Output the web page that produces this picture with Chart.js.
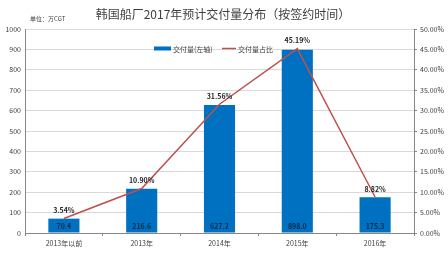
<!DOCTYPE html>
<html>
<head>
<meta charset="utf-8">
<script src="https://cdn.jsdelivr.net/npm/chart.js@4/dist/chart.umd.min.js"></script>
<style>
  html, body { margin: 0; padding: 0; background: #fff; }
  canvas { display: block; }
</style>
</head>
<body>
<canvas id="shipChart" width="448" height="255"></canvas>
<script>
var years = ["2013年以前", "2013年", "2014年", "2015年", "2016年"];
var delivered = [70.4, 216.6, 627.2, 898.0, 175.3];   // 万CGT
var share = [3.54, 10.90, 31.56, 45.19, 8.82];         // %

var cjk = '"Noto Sans CJK SC", "Noto Sans", sans-serif';
var barColor = "#0070c0";
var lineColor = "#c0504d";

// title, unit, legend and the value labels
var annotate = {
    id: 'annotate',
    afterDatasetsDraw: function (chart) {
        var ctx = chart.ctx;
        ctx.save();

        ctx.fillStyle = "#404040";
        ctx.font = "12px " + cjk;
        ctx.textAlign = "center";
        ctx.textBaseline = "middle";
        ctx.fillText("韩国船厂2017年预计交付量分布（按签约时间）", 223, 14);

        ctx.font = "6px " + cjk;
        ctx.textAlign = "left";
        ctx.fillText("单位：万CGT", 30, 19);

        // legend
        ctx.font = "7px " + cjk;
        ctx.fillStyle = barColor;
        ctx.fillRect(154, 46.5, 17, 4);
        ctx.fillStyle = "#404040";
        ctx.fillText("交付量(左轴)", 173, 49);
        ctx.strokeStyle = lineColor;
        ctx.lineWidth = 1.5;
        ctx.beginPath();
        ctx.moveTo(222, 48.5);
        ctx.lineTo(236, 48.5);
        ctx.stroke();
        ctx.fillText("交付量占比", 238, 49);

        // bar values inside the bars
        var bars = chart.getDatasetMeta(0).data;
        ctx.font = "bold 7px " + cjk;
        ctx.textAlign = "center";
        ctx.fillStyle = "#14284a";
        bars.forEach(function (b, i) {
            ctx.fillText(delivered[i].toFixed(1), b.x, chart.scales.y.bottom - 7);
        });

        // percentages above the line points
        var pts = chart.getDatasetMeta(1).data;
        ctx.fillStyle = "#262626";
        pts.forEach(function (p, i) {
            ctx.fillText(share[i].toFixed(2) + "%", p.x, p.y - 8);
        });
        ctx.restore();
    }
};

var ctx = document.getElementById('shipChart').getContext('2d');
var chart = new Chart(ctx, {
    type: 'bar',
    data: {
        labels: years,
        datasets: [
            {
                label: "交付量(左轴)",
                data: delivered,
                backgroundColor: barColor,
                borderWidth: 0,
                categoryPercentage: 1.0,
                barPercentage: 0.4,
                yAxisID: 'y',
                order: 2
            },
            {
                type: 'line',
                label: "交付量占比",
                data: share,
                borderColor: lineColor,
                borderWidth: 1.5,
                pointRadius: 0,
                tension: 0,
                fill: false,
                yAxisID: 'y1',
                order: 1
            }
        ]
    },
    options: {
        responsive: false,
        animation: { duration: 0 },
        layout: { padding: { top: 29, left: 0, right: 0, bottom: 0 } },
        plugins: {
            legend: { display: false },
            title: { display: false },
            tooltip: { enabled: false }
        },
        scales: {
            x: {
                grid: { display: true, drawOnChartArea: false, tickLength: 3, offset: true, color: "#868686" },
                border: { color: "#868686" },
                ticks: { color: "#404040", font: { size: 7, family: cjk }, padding: 3, maxRotation: 0 },
                afterFit: function (s) { s.height = 22; }
            },
            y: {
                position: 'left',
                min: 0,
                max: 1000,
                ticks: {
                    stepSize: 100,
                    autoSkip: false,
                    color: "#404040",
                    font: { size: 7, family: cjk },
                    padding: 4,
                    callback: function (v) { return String(v); }
                },
                grid: { color: "#d9d9d9", drawTicks: false },
                border: { color: "#868686" },
                afterFit: function (s) { s.width = 25; }
            },
            y1: {
                position: 'right',
                min: 0,
                max: 50,
                ticks: {
                    stepSize: 5,
                    autoSkip: false,
                    color: "#404040",
                    font: { size: 7, family: cjk },
                    padding: 3,
                    callback: function (v) { return v.toFixed(2) + "%"; }
                },
                grid: { drawOnChartArea: false, tickLength: 3, color: "#868686" },
                border: { color: "#868686" },
                afterFit: function (s) { s.width = 34; }
            }
        }
    },
    plugins: [annotate]
});
</script>
</body>
</html>
